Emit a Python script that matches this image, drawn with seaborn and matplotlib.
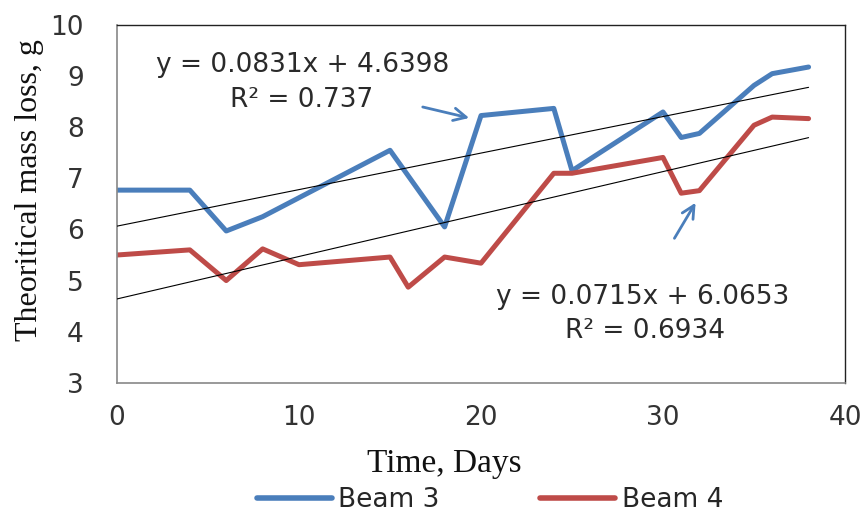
import numpy as np
import pandas as pd
import matplotlib
matplotlib.use("Agg")
import matplotlib.pyplot as plt
import seaborn as sns

# ---- data ----
days_b3 = [0, 4, 6, 8, 15, 18, 20, 24, 25, 30, 31, 32, 35, 36, 38]
beam3 = [6.77, 6.77, 5.97, 6.25, 7.55, 6.05, 8.23, 8.37, 7.15, 8.30, 7.80, 7.88, 8.82, 9.05, 9.18]
days_b4 = [0, 4, 6, 8, 10, 15, 16, 18, 20, 24, 25, 30, 31, 32, 35, 36, 38]
beam4 = [5.50, 5.60, 5.00, 5.62, 5.31, 5.46, 4.87, 5.46, 5.34, 7.10, 7.10, 7.41, 6.71, 6.76, 8.04, 8.20, 8.17]
series_names = ["Beam 3", "Beam 4"]

# trendline coefficients (slope, intercept) as displayed
trend_slopes = [0.0715, 0.0831]
trend_intercepts = [6.0653, 4.6398]
trend_range = [0, 38]
eq_texts = ["y = 0.0831x + 4.6398", "y = 0.0715x + 6.0653"]
r2_texts = ["R\u00b2 = 0.737", "R\u00b2 = 0.6934"]

x_ticks = [0, 10, 20, 30, 40]
y_ticks = [3, 4, 5, 6, 7, 8, 9, 10]

df = pd.DataFrame({
    "Day": days_b3 + days_b4,
    "Mass": beam3 + beam4,
    "Series": [series_names[0]] * len(days_b3) + [series_names[1]] * len(days_b4),
})

sns.set_style("white")
plt.rcParams["font.family"] = ["DejaVu Sans"]

fig = plt.figure(figsize=(8.67, 5.13), dpi=100)
ax = fig.add_axes([0.135, 0.254, 0.8396, 0.697])

palette = {"Beam 3": "#4A7EBB", "Beam 4": "#BE4B48"}
sns.lineplot(data=df, x="Day", y="Mass", hue="Series", palette=palette,
             linewidth=3.6, ax=ax, sort=False, estimator=None, legend=True)

# trendlines
xs = np.array(trend_range, dtype=float)
for m, b in zip(trend_slopes, trend_intercepts):
    ax.plot(xs, m * xs + b, color="black", linewidth=0.8, zorder=3)

ax.set_xlim(0, 40)
ax.set_ylim(3, 10)
ax.set_xticks(x_ticks)
ax.set_yticks(y_ticks)
ax.tick_params(axis="both", labelsize=19, colors="#888888", labelcolor="#333333",
               direction="out", width=1.2)
ax.tick_params(axis="x", length=7, pad=9)
ax.tick_params(axis="y", length=10, pad=14)

for s in ["left", "bottom"]:
    ax.spines[s].set_color("#888888")
    ax.spines[s].set_linewidth(1.2)
for s in ["top", "right"]:
    ax.spines[s].set_color("#222222")
    ax.spines[s].set_linewidth(1.0)

ax.set_xlabel("Time, Days", family=["Liberation Serif"], fontsize=24, color="#111111")
ax.set_ylabel("Theoritical mass loss, g", family=["Liberation Serif"], fontsize=23, color="#111111")
ax.xaxis.set_label_coords(0.45, -0.185)
ax.yaxis.set_label_coords(-0.10, 0.54)

# equation texts
txt_kw = dict(ha="center", va="center", fontsize=19, color="#2a2a2a")
ax.text(10.22, 9.216, eq_texts[0], **txt_kw)
ax.text(10.16, 8.53, r2_texts[0], **txt_kw)
ax.text(28.9, 4.67, eq_texts[1], **txt_kw)
ax.text(29.0, 4.02, r2_texts[1], **txt_kw)

# arrows
arrow_kw = dict(arrowstyle="->,head_length=0.9,head_width=0.45", color="#4A7EBB", lw=2.0)
ax.annotate("", xy=(19.5, 8.17), xytext=(16.65, 8.41), arrowprops=arrow_kw)
ax.annotate("", xy=(31.87, 6.57), xytext=(30.55, 5.78), arrowprops=arrow_kw)

handles, labels = ax.get_legend_handles_labels()
ax.get_legend().remove()
leg = fig.legend(handles, labels, loc="center", bbox_to_anchor=(490 / 867, 1 - 500 / 513),
                 ncol=2, frameon=False, fontsize=19, handlelength=2.84,
                 columnspacing=3.8, handletextpad=0.25)
for line in leg.get_lines():
    line.set_linewidth(4)

fig.savefig("out.png", dpi=100)
